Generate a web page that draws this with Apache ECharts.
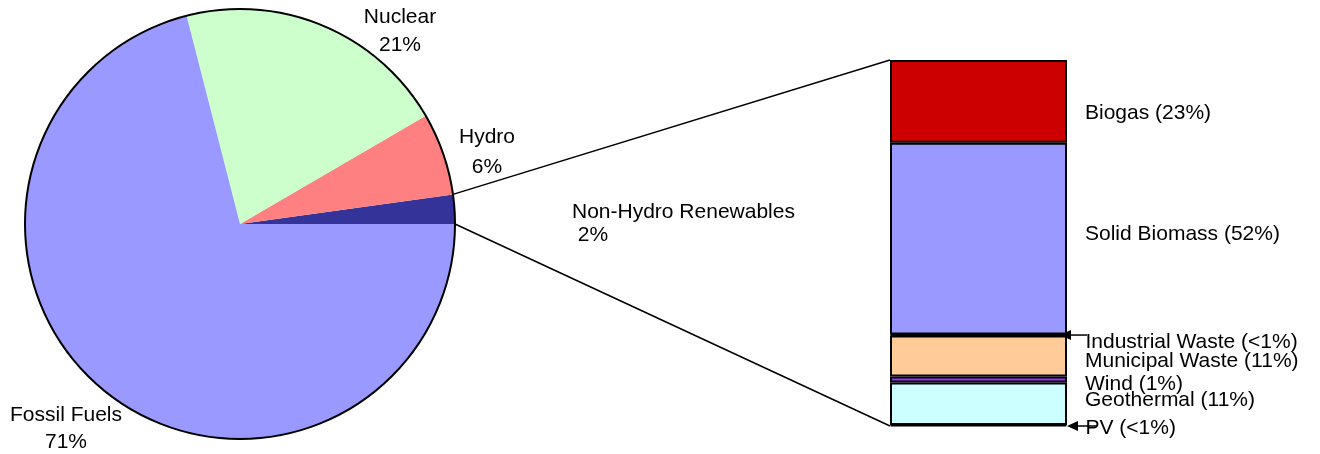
<!DOCTYPE html>
<html>
<head>
<meta charset="utf-8">
<script src="https://cdn.jsdelivr.net/npm/echarts@6/dist/echarts.min.js"></script>
<style>
  html, body { margin: 0; padding: 0; background: #fff; }
  #chart { width: 1320px; height: 454px; }
</style>
</head>
<body>
<div id="chart"></div>
<script>
// pie data (share of total supply, %), counter-clockwise from 3 o'clock
const pieNames = ['Non-Hydro Renewables', 'Hydro', 'Nuclear', 'Fossil Fuels'];
const pieValues = [2.2, 6.2, 20.6, 71.0];
const pieLabels = ['Non-Hydro Renewables\n 2%', 'Hydro\n6%', 'Nuclear\n21%', 'Fossil Fuels\n71%'];
const pieColors = ['#333399', '#FF8080', '#CCFFCC', '#9999FF'];

// breakdown of non-hydro renewables, stacked bottom to top
const barNames = ['PV', 'Geothermal', 'Wind', 'Municipal Waste', 'Industrial Waste', 'Solid Biomass', 'Biogas'];
const barValues = [0.3, 11.6, 1.6, 11.2, 0.3, 52.4, 22.6];
const barLabels = ['PV (<1%)', 'Geothermal (11%)', 'Wind (1%)', 'Municipal Waste (11%)', 'Industrial Waste (<1%)', 'Solid Biomass (52%)', 'Biogas (23%)'];
const barColors = ['#CCFFFF', '#CCFFFF', '#9933FF', '#FFCC99', '#333399', '#9999FF', '#CC0000'];

const FONT = 'Liberation Sans, Arial, sans-serif';
const FS = 21;
const pieCenter = [240, 224];
const pieR = 215;
const grid = { left: 890, right: 253, top: 60, bottom: 28 };
const total = barValues.reduce((a, b) => a + b, 0);

// where each label sits, relative to its segment centre
const barLabelOffset = [3, -3, 5, 5, 7, -4, 12];
// fixed spots for the pie labels
const pieLabelPos = [
    { x: 572, y: 224, align: 'left' },
    { x: 487, y: 152, align: 'center' },
    { x: 400, y: 31, align: 'center' },
    { x: 66, y: 429, align: 'center' }
];
const pieLineHeight = [23, 30, 28, 27];

const chart = echarts.init(document.getElementById('chart'));

const barSeries = barNames.map((name, i) => ({
    name: name,
    type: 'bar',
    stack: 'nhr',
    barWidth: 1320 - grid.left - grid.right,
    data: [barValues[i]],
    itemStyle: { color: barColors[i], borderColor: '#000', borderWidth: 2 },
    label: {
        show: true,
        position: 'right',
        distance: 18,
        offset: [0, barLabelOffset[i]],
        formatter: barLabels[i],
        color: '#000',
        fontFamily: FONT,
        fontSize: FS
    },
    silent: true,
    animation: false
}));

const option = {
    animation: false,
    grid: grid,
    xAxis: { type: 'category', data: ['NHR'], show: false },
    yAxis: { type: 'value', min: 0, max: total, show: false },
    series: [
        {
            type: 'pie',
            center: pieCenter,
            radius: pieR,
            startAngle: 0,
            clockwise: false,
            silent: true,
            data: pieNames.map((n, i) => ({
                name: n,
                value: pieValues[i],
                itemStyle: { color: pieColors[i] },
                label: { lineHeight: pieLineHeight[i] }
            })),
            label: {
                show: true,
                formatter: p => pieLabels[p.dataIndex],
                color: '#000',
                fontFamily: FONT,
                fontSize: FS,
                overflow: 'none',
                width: 300
            },
            labelLine: { show: false },
            labelLayout: p => pieLabelPos[p.dataIndex]
        },
        {
            // outline of the pie
            type: 'pie',
            center: pieCenter,
            radius: pieR,
            silent: true,
            data: [{ value: 1, itemStyle: { color: 'none', borderColor: '#000', borderWidth: 2 } }],
            label: { show: false },
            labelLine: { show: false }
        }
    ].concat(barSeries)
};
chart.setOption(option);

// connector lines and arrows
const ang = pieValues[0] / 100 * 2 * Math.PI;
const pieTop = [pieCenter[0] + pieR * Math.cos(ang), pieCenter[1] - pieR * Math.sin(ang)];
const pieBot = [pieCenter[0] + pieR, pieCenter[1]];
const barTop = chart.convertToPixel({ gridIndex: 0 }, [0, total]);
const barBot = chart.convertToPixel({ gridIndex: 0 }, [0, 0]);
const barLeft = grid.left;
const barRight = 1320 - grid.right;

const cumAt = k => barValues.slice(0, k).reduce((a, b) => a + b, 0);
const indY = chart.convertToPixel({ gridIndex: 0 }, [0, cumAt(4) + barValues[4] / 2])[1];
const pvY = barBot[1];

function arrow(x1, x2, y) {
    return [
        { type: 'line', shape: { x1: x1, y1: y, x2: x2 + 8, y2: y }, style: { stroke: '#000', lineWidth: 1.5 }, silent: true },
        { type: 'polygon', shape: { points: [[x2, y], [x2 + 11, y - 5], [x2 + 11, y + 5]] }, style: { fill: '#000' }, silent: true }
    ];
}

chart.setOption({
    graphic: [
        { type: 'line', shape: { x1: pieTop[0], y1: pieTop[1], x2: barLeft, y2: barTop[1] }, style: { stroke: '#000', lineWidth: 1.5 }, silent: true },
        { type: 'line', shape: { x1: pieBot[0], y1: pieBot[1], x2: barLeft, y2: barBot[1] }, style: { stroke: '#000', lineWidth: 1.5 }, silent: true }
    ].concat(arrow(barRight + 20, barRight - 7, indY), arrow(barRight + 30, barRight, pvY))
});
</script>
</body>
</html>
